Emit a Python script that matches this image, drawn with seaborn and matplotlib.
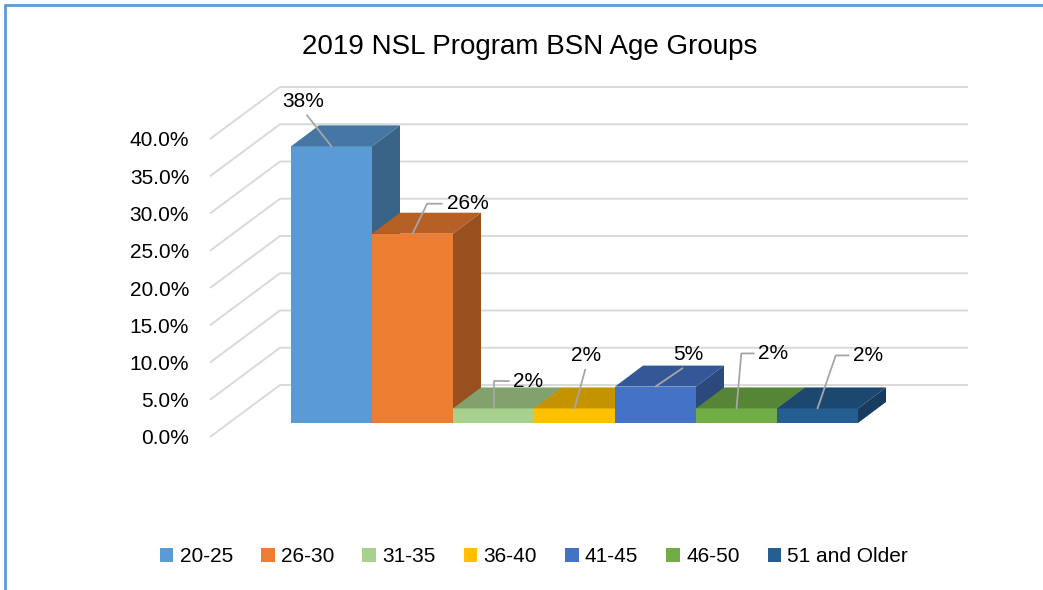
import numpy as np
import matplotlib
matplotlib.use("Agg")
import matplotlib.pyplot as plt
from matplotlib.patches import Polygon
from matplotlib.lines import Line2D
import seaborn as sns

# --- data ---
groups = ["20-25", "26-30", "31-35", "36-40", "41-45", "46-50", "51 and Older"]
shares = [0.38, 0.26, 0.02, 0.02, 0.05, 0.02, 0.02]
value_labels = ["38%", "26%", "2%", "2%", "5%", "2%", "2%"]
colors = ["#5B9BD5", "#ED7D31", "#A9D18E", "#FFC000", "#4472C4", "#70AD47", "#255E91"]
y_ticks = [0.0, 0.05, 0.10, 0.15, 0.20, 0.25, 0.30, 0.35, 0.40]
title = "2019 NSL Program BSN Age Groups"

# label placement (pixels from bar top) and leader style
label_offsets = [(-28, 45), (55, 30), (35, 27), (12, 53), (33, 32), (37, 55), (51, 53)]
leader_styles = [None, "angle,angleA=0,angleB=64,rad=0", "angle,angleA=0,angleB=90,rad=0",
                 None, None, "angle,angleA=0,angleB=85,rad=0", "angle,angleA=0,angleB=71,rad=0"]

W, H = 1043, 590
PX_CAT = 81.0     # pixels per category
PX_VAL = 728.0    # pixels per unit of share (bar plane)
BAR_DX, BAR_DY = 28 / PX_CAT, 21 / PX_VAL
GRID_SCALE = 745 / PX_VAL   # wall is drawn a bit larger than the bar plane
FRONT_OFF = -14 / PX_VAL
BACK_OFF = 38 / PX_VAL
GRID_FRONT_X = -1.5
GRID_BACK_X = -1.5 + 70 / PX_CAT
FS = 15

sns.set_theme(style="white")
plt.rcParams["font.family"] = ["Liberation Sans", "DejaVu Sans"]
plt.rcParams["text.color"] = "black"

fig = plt.figure(figsize=(W / 100, H / 100), dpi=100)
ax_left, ax_right, ax_bottom, ax_top = 210, 968, 445, 60
ax = fig.add_axes([ax_left / W, (H - ax_bottom) / H, (ax_right - ax_left) / W, (ax_bottom - ax_top) / H])

sns.barplot(x=groups, y=shares, hue=groups, palette=colors, width=1.0, saturation=1,
            linewidth=0, legend=True, ax=ax)

xmin = GRID_FRONT_X
xmax = xmin + (ax_right - ax_left) / PX_CAT
ymin = -(ax_bottom - 423) / PX_VAL
ymax = ymin + (ax_bottom - ax_top) / PX_VAL
ax.set_xlim(xmin, xmax)
ax.set_ylim(ymin, ymax)

# gridlines on a 3D-like wall
for t in y_ticks:
    ax.plot([GRID_FRONT_X, GRID_BACK_X, xmax],
            [t * GRID_SCALE + FRONT_OFF, t * GRID_SCALE + BACK_OFF, t * GRID_SCALE + BACK_OFF],
            color="#D9D9D9", lw=1.4, zorder=1, clip_on=False, solid_capstyle="butt")

# 3D faces for each bar
bars = [p for c in ax.containers for p in c]
bars.sort(key=lambda p: p.get_x())
for i, p in enumerate(bars):
    x0, y0, w, h = p.get_x(), p.get_y(), p.get_width(), p.get_height()
    base = np.array(matplotlib.colors.to_rgb(p.get_facecolor()))
    z = 3 + i
    p.set_zorder(z)
    top = Polygon([(x0, y0 + h), (x0 + w, y0 + h), (x0 + w + BAR_DX, y0 + h + BAR_DY),
                   (x0 + BAR_DX, y0 + h + BAR_DY)], closed=True,
                  facecolor=base * 0.77, edgecolor="none", zorder=z)
    side = Polygon([(x0 + w, y0), (x0 + w + BAR_DX, y0 + BAR_DY), (x0 + w + BAR_DX, y0 + h + BAR_DY),
                    (x0 + w, y0 + h)], closed=True,
                   facecolor=base * 0.64, edgecolor="none", zorder=z)
    ax.add_patch(top)
    ax.add_patch(side)

    # data label with leader line
    style = leader_styles[i]
    aprops = dict(arrowstyle="-", color="#A6A6A6", lw=1.3, shrinkA=1, shrinkB=0)
    if style is None:
        aprops["relpos"] = (0.5, 0.0)
    else:
        aprops["connectionstyle"] = style
    ax.annotate(value_labels[i], xy=(x0 + w / 2, y0 + h), xytext=label_offsets[i],
                textcoords="offset pixels", ha="center", va="center", fontsize=FS,
                color="#000000", arrowprops=aprops, zorder=20)

ax.set_yticks([t * GRID_SCALE + FRONT_OFF for t in y_ticks], labels=[f"{t:.1%}" for t in y_ticks])
ax.tick_params(axis="y", length=0, pad=15, labelsize=FS, labelcolor="#000000")
ax.set_xticks([])
ax.set_xlabel("")
ax.set_ylabel("")
sns.despine(ax=ax, left=True, bottom=True)

sns.move_legend(ax, "center", bbox_to_anchor=(534 / W, 1 - 557 / H), bbox_transform=fig.transFigure,
                ncol=7, frameon=False, title=None, fontsize=FS, handlelength=0.65, handleheight=0.65,
                handletextpad=0.3, columnspacing=1.35, labelcolor="black")

fig.text(530 / W, 1 - 47 / H, title, ha="center", va="center", fontsize=20, color="#000000")

# chart border (top and left visible)
fig.add_artist(Line2D([5 / W, 5 / W], [0, 1 - 5 / H], transform=fig.transFigure, color="#5B9BD5", lw=2))
fig.add_artist(Line2D([5 / W, 1], [1 - 5 / H, 1 - 5 / H], transform=fig.transFigure, color="#5B9BD5", lw=2))

fig.savefig("out.png", dpi=100)
